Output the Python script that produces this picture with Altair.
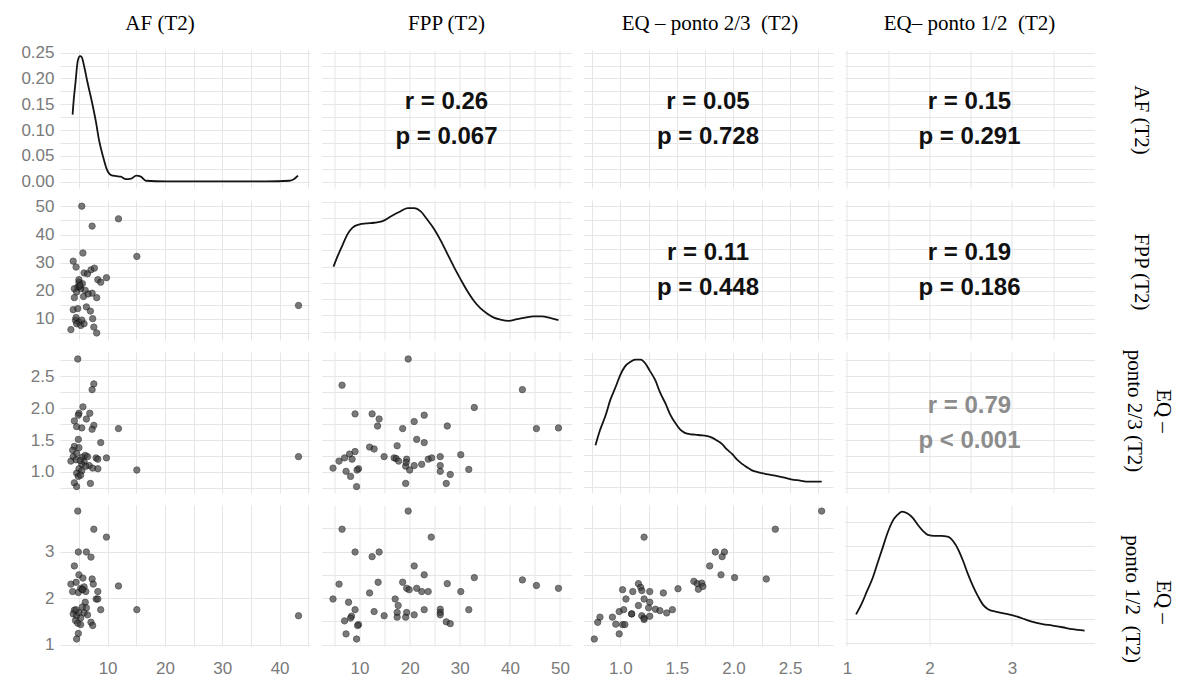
import altair as alt
import pandas as pd

# ---------------- text ----------------
HEADERS = ["AF (T2)", "FPP (T2)", "EQ – ponto 2/3 \u00a0(T2)", "EQ– ponto 1/2 \u00a0(T2)"]
ROW_LABELS = [["AF (T2)"], ["FPP (T2)"], ["EQ –", "ponto 2/3 (T2)"], ["EQ –", "ponto 1/2 \u00a0(T2)"]]

CORR_R = ["0.26", "0.05", "0.15", "0.11", "0.19", "0.79"]
CORR_P = ["= 0.067", "= 0.728", "= 0.291", "= 0.448", "= 0.186", "< 0.001"]

# ---------------- scatter data ----------------
AF_FPP_X = [5.5, 11.9, 7.3, 15.1, 43.3, 5.7, 4.0, 4.5, 5.9, 6.5, 7.1, 7.7, 8.3, 8.8, 9.8, 5.0, 5.6, 4.8, 4.2, 6.1,
            5.3, 7.3, 8.1, 5.8, 4.2, 4.0, 4.8, 6.3, 7.0, 7.4, 4.4, 5.0, 4.6, 5.3, 5.9, 7.6, 3.6, 8.1, 5.0, 4.5,
            5.1, 4.6, 5.5, 6.6, 5.2]
AF_FPP_Y = [50.1, 45.6, 43.0, 32.2, 14.7, 33.4, 30.5, 28.4, 26.3, 26.0, 27.4, 28.0, 23.9, 23.0, 24.6, 23.0, 22.5, 21.3, 20.7, 20.1,
            20.7, 19.1, 17.5, 17.9, 17.5, 13.2, 13.6, 14.2, 12.7, 10.0, 9.4, 8.8, 8.2, 7.6, 8.2, 7.0, 6.1, 4.9, 23.9, 10.4,
            21.5, 19.5, 9.5, 18.8, 22.0]

AF_EQ23_X = [4.8, 7.6, 7.3, 5.7, 5.0, 4.9, 6.9, 6.3, 4.2, 4.6, 5.5, 7.6, 7.3, 11.9, 4.9, 8.8, 4.2, 5.0, 3.9, 4.6,
             4.0, 3.6, 4.5, 5.6, 6.1, 6.5, 5.9, 5.5, 8.0, 8.3, 9.8, 6.8, 7.4, 8.3, 15.1, 5.0, 5.5, 4.6, 4.9, 5.3,
             4.2, 4.6, 7.0, 43.3, 5.2, 6.2]
AF_EQ23_Y = [2.77, 2.38, 2.29, 2.02, 1.92, 1.89, 1.92, 1.83, 1.80, 1.71, 1.69, 1.73, 1.67, 1.68, 1.51, 1.46, 1.40, 1.38, 1.34, 1.29,
             1.24, 1.17, 1.19, 1.23, 1.26, 1.24, 1.16, 1.12, 1.22, 1.20, 1.22, 1.10, 1.06, 1.05, 1.03, 1.05, 1.02, 0.98, 0.93, 0.95,
             0.83, 0.77, 0.82, 1.24, 1.18, 1.09]

AF_EQ12_X = [4.8, 7.6, 9.8, 4.9, 6.3, 7.1, 4.2, 5.0, 5.7, 7.3, 7.5, 3.6, 4.5, 11.9, 5.3, 5.6, 5.9, 3.9, 4.9, 6.2,
             8.3, 8.0, 8.3, 6.1, 5.6, 6.3, 8.8, 15.1, 4.2, 4.0, 4.6, 5.0, 5.9, 6.5, 5.3, 4.4, 4.8, 5.3, 7.1, 7.4,
             4.9, 4.6, 43.3, 4.5, 5.6]
AF_EQ12_Y = [3.87, 3.48, 3.31, 2.99, 2.99, 2.88, 2.69, 2.50, 2.43, 2.41, 2.30, 2.30, 2.34, 2.26, 2.21, 2.19, 2.24, 2.14, 2.12, 2.14,
             2.14, 1.98, 1.98, 1.91, 1.81, 1.79, 1.75, 1.75, 1.74, 1.66, 1.62, 1.69, 1.68, 1.64, 1.57, 1.52, 1.46, 1.43, 1.48, 1.41,
             1.24, 1.12, 1.62, 1.75, 2.18]

FPP_EQ23_X = [19.7, 6.5, 42.5, 32.9, 9.1, 12.5, 13.9, 22.9, 20.9, 13.6, 18.6, 27.5, 45.3, 49.7, 21.4, 22.9, 12.0, 12.9, 17.5, 9.1,
              8.0, 7.0, 5.9, 8.5, 14.9, 16.9, 17.3, 17.8, 19.4, 23.7, 24.4, 26.1, 30.2, 4.7, 7.3, 8.2, 9.8, 9.5, 9.4, 19.2,
              20.0, 20.9, 22.4, 26.1, 26.1, 28.1, 31.8, 19.2, 27.3, 19.3]
FPP_EQ23_Y = [2.77, 2.36, 2.29, 2.01, 1.91, 1.91, 1.83, 1.89, 1.79, 1.72, 1.68, 1.72, 1.68, 1.69, 1.51, 1.46, 1.39, 1.36, 1.41, 1.32,
              1.28, 1.22, 1.17, 1.20, 1.24, 1.22, 1.21, 1.17, 1.20, 1.20, 1.22, 1.24, 1.27, 1.06, 1.01, 0.93, 1.05, 1.03, 0.77, 1.09,
              1.03, 1.10, 1.12, 1.10, 1.01, 0.96, 1.04, 0.82, 0.82, 1.15]

FPP_EQ12_X = [19.7, 6.5, 24.3, 9.1, 13.9, 12.5, 20.9, 22.9, 32.9, 42.5, 5.9, 13.7, 18.6, 27.5, 45.3, 49.7, 19.4, 19.9, 21.4, 22.4,
              23.7, 30.2, 12.0, 4.7, 17.1, 7.8, 17.7, 9.1, 12.9, 22.9, 31.8, 26.1, 26.1, 26.1, 17.5, 19.4, 20.9, 14.9, 8.4, 8.2,
              17.5, 19.2, 7.0, 9.8, 9.6, 27.3, 28.1, 7.3, 9.4]
FPP_EQ12_Y = [3.87, 3.48, 3.31, 2.99, 2.99, 2.89, 2.69, 2.50, 2.44, 2.39, 2.30, 2.34, 2.34, 2.31, 2.27, 2.21, 2.21, 2.18, 2.21, 2.14,
              2.14, 2.14, 2.11, 1.98, 1.98, 1.91, 1.84, 1.75, 1.71, 1.75, 1.75, 1.76, 1.69, 1.64, 1.69, 1.69, 1.64, 1.62, 1.61, 1.57,
              1.59, 1.59, 1.51, 1.43, 1.41, 1.49, 1.45, 1.23, 1.12]

EQ23_EQ12_X = [2.78, 2.37, 1.21, 1.84, 1.92, 1.90, 1.79, 1.89, 2.01, 2.29, 1.65, 1.68, 1.72, 1.73, 1.69, 1.51, 1.16, 1.18, 1.19, 1.02,
               1.11, 1.26, 1.38, 1.05, 1.21, 1.26, 1.16, 1.25, 1.31, 1.35, 1.41, 1.46, 0.99, 1.03, 1.10, 1.19, 1.21, 1.26, 0.93, 0.82,
               0.80, 0.96, 1.02, 1.04, 0.99, 0.77, 1.10, 1.21]
EQ23_EQ12_Y = [3.87, 3.48, 3.31, 2.99, 2.99, 2.89, 2.69, 2.50, 2.44, 2.41, 2.36, 2.31, 2.32, 2.25, 2.19, 2.20, 2.31, 2.23, 2.16, 2.18,
               2.14, 2.14, 2.11, 1.98, 1.98, 1.91, 1.84, 1.79, 1.76, 1.73, 1.68, 1.75, 1.71, 1.75, 1.66, 1.62, 1.57, 1.61, 1.59, 1.59,
               1.48, 1.44, 1.43, 1.43, 1.23, 1.12, 1.66, 1.54]

# ---------------- density curves (diagonal) ----------------
DENS_AF_X = [3.9, 4.0, 4.4, 4.8, 5.2, 5.5, 5.9, 6.5, 7.3, 8.0, 8.5, 9.2, 9.8, 10.6, 11.5, 12.3, 13.2, 14.1, 15.0, 15.8,
             16.7, 20.2, 26.0, 31.8, 37.7, 41.7, 42.6, 43.2]
DENS_AF_Y = [0.130, 0.146, 0.192, 0.234, 0.243, 0.241, 0.224, 0.192, 0.153, 0.114, 0.081, 0.049, 0.026, 0.013, 0.011, 0.010,
             0.005, 0.006, 0.012, 0.010, 0.002, 0.001, 0.001, 0.001, 0.001, 0.002, 0.006, 0.012]

DENS_FPP_X = [4.8, 5.7, 6.7, 7.6, 8.6, 10.0, 11.3, 12.9, 14.6, 16.3, 17.9, 19.6, 20.9, 22.2, 23.5, 24.9, 26.2, 27.5, 28.8,
              30.2, 31.5, 32.8, 34.1, 35.5, 36.8, 38.1, 39.8, 41.4, 43.1, 44.7, 46.4, 48.0, 49.7]
DENS_FPP_Y = [0.020, 0.0235, 0.027, 0.030, 0.032, 0.033, 0.0333, 0.0335, 0.034, 0.0355, 0.0368, 0.038, 0.038, 0.037, 0.0345,
              0.0315, 0.028, 0.024, 0.020, 0.016, 0.0125, 0.0095, 0.0072, 0.0055, 0.0043, 0.0037, 0.0033, 0.0038, 0.0043,
              0.0047, 0.0047, 0.0042, 0.0035]

DENS_EQ23_X = [0.78, 0.82, 0.87, 0.91, 0.96, 1.00, 1.04, 1.09, 1.13, 1.18, 1.22, 1.26, 1.31, 1.35, 1.40, 1.44, 1.49, 1.53,
               1.57, 1.62, 1.66, 1.71, 1.76, 1.81, 1.85, 1.90, 1.94, 1.99, 2.03, 2.07, 2.12, 2.16, 2.22, 2.29, 2.37, 2.44,
               2.51, 2.59, 2.66, 2.74, 2.78]
DENS_EQ23_Y = [0.26, 0.354, 0.448, 0.542, 0.629, 0.702, 0.754, 0.785, 0.798, 0.798, 0.775, 0.729, 0.667, 0.594, 0.521,
               0.454, 0.396, 0.358, 0.338, 0.329, 0.327, 0.323, 0.319, 0.308, 0.292, 0.267, 0.235, 0.204, 0.171, 0.146,
               0.121, 0.104, 0.090, 0.079, 0.069, 0.058, 0.046, 0.038, 0.031, 0.031, 0.031]

DENS_EQ12_X = [1.11, 1.18, 1.24, 1.31, 1.37, 1.43, 1.49, 1.55, 1.61, 1.67, 1.73, 1.80, 1.86, 1.92, 1.98, 2.06, 2.14, 2.22,
               2.29, 2.35, 2.41, 2.47, 2.53, 2.59, 2.65, 2.71, 2.80, 2.90, 3.00, 3.12, 3.24, 3.37, 3.49, 3.61, 3.73, 3.88]
DENS_EQ12_Y = [0.119, 0.164, 0.212, 0.267, 0.329, 0.390, 0.452, 0.500, 0.527, 0.541, 0.534, 0.514, 0.486, 0.462, 0.445,
               0.441, 0.441, 0.438, 0.418, 0.384, 0.336, 0.281, 0.233, 0.192, 0.158, 0.140, 0.130, 0.123, 0.116, 0.103,
               0.089, 0.079, 0.073, 0.066, 0.058, 0.052]

# ---------------- scales / ticks ----------------
SPEC = {
    "AF": dict(domain=[1.7, 45.3], grid=[5, 10, 15, 20, 25, 30, 35, 40, 45], major=[10, 20, 30, 40], fmt="d"),
    "FPP": dict(domain=[2.4, 52.3], grid=[5, 10, 15, 20, 25, 30, 35, 40, 45, 50], major=[10, 20, 30, 40, 50], fmt="d"),
    "EQ23": dict(domain=[0.67, 2.88], grid=[0.75, 1.0, 1.25, 1.5, 1.75, 2.0, 2.25, 2.5, 2.75],
                 major=[1.0, 1.5, 2.0, 2.5], fmt=".1f"),
    "EQ12": dict(domain=[0.97, 4.0], grid=[1.0, 1.5, 2.0, 2.5, 3.0, 3.5], major=[1, 2, 3], fmt="d"),
    "D_AF": dict(domain=[-0.012, 0.255],
                 grid=[0, 0.025, 0.05, 0.075, 0.1, 0.125, 0.15, 0.175, 0.2, 0.225, 0.25],
                 major=[0, 0.05, 0.1, 0.15, 0.2, 0.25], fmt=".2f"),
    "D_FPP": dict(domain=[-0.0026, 0.0405], grid=[0, 0.005, 0.01, 0.015, 0.02, 0.025, 0.03, 0.035, 0.04],
                  major=[], fmt=".3f"),
    "D_EQ23": dict(domain=[-0.04, 0.846], grid=[0, 0.1, 0.2, 0.3, 0.4, 0.5, 0.6, 0.7, 0.8], major=[], fmt=".1f"),
    "D_EQ12": dict(domain=[-0.011, 0.568], grid=[0, 0.1, 0.2, 0.3, 0.4, 0.5], major=[], fmt=".1f"),
}

W = 250
HEIGHTS = [138, 140, 141, 141]
ROW_LABEL_POS = [[(296, 70)], [(296, 72)], [(318, 59), (289, 59)], [(318, 97), (287, 94)]]
HEADER_POS = [(100, -20), (125, -20), (127, -20), (125, -20)]

LABEL_FONT = "Liberation Sans"
SERIF = "Liberation Serif"
TICK_COLOR = "#7a7a7a"


def make_axis(key, show, orient):
    s = SPEC[key]
    if show:
        extra = dict(minExtent=47, maxExtent=47, labelPadding=6) if orient == "left" else dict(labelPadding=14)
        return alt.Axis(values=s["grid"], grid=True, title=None, domain=False, ticks=False,
                        format=s["fmt"], labelExpr=f"indexof({s['major']}, datum.value) >= 0 ? datum.label : ''",
                        labelOverlap=False, labelFlush=False, **extra)
    return alt.Axis(values=s["grid"], grid=True, title=None, domain=False, ticks=False, labels=False)


def xy(xkey, ykey, show_x, show_y):
    x = alt.X("x:Q", scale=alt.Scale(domain=SPEC[xkey]["domain"], nice=False, zero=False),
              axis=make_axis(xkey, show_x, "bottom"))
    y = alt.Y("y:Q", scale=alt.Scale(domain=SPEC[ykey]["domain"], nice=False, zero=False),
              axis=make_axis(ykey, show_y, "left"))
    return x, y


def scatter(xs, ys, xkey, ykey, row, col):
    x, y = xy(xkey, ykey, row == 3, col == 0)
    df = pd.DataFrame({"x": xs, "y": ys})
    return alt.Chart(df).mark_point(shape="circle", filled=True, fill="#3a3a3a", stroke="#101010",
                                    strokeWidth=0.9, opacity=0.68, size=40).encode(x=x, y=y)


def density(xs, ys, xkey, ykey, row, col):
    x, y = xy(xkey, ykey, row == 3, col == 0)
    df = pd.DataFrame({"x": xs, "y": ys})
    return alt.Chart(df).mark_line(color="#141414", strokeWidth=1.8, interpolate="monotone").encode(x=x, y=y)


def text_panel(r, p, xkey, ykey, row, col, color):
    x, y = xy(xkey, ykey, False, False)
    h = HEIGHTS[row]
    frame = pd.DataFrame({"x": SPEC[xkey]["domain"], "y": SPEC[ykey]["domain"]})
    grid_layer = alt.Chart(frame).mark_point(opacity=0, size=1).encode(x=x, y=y)
    tdf = pd.DataFrame({"r": [f"r = {r}"], "p": [f"p {p}"]})
    common = dict(font=LABEL_FONT, fontWeight="bold", fontSize=24, color=color, align="center", baseline="middle")
    r_layer = alt.Chart(tdf).mark_text(**common).encode(x=alt.value(W / 2), y=alt.value(h / 2 - 17), text="r:N")
    p_layer = alt.Chart(tdf).mark_text(**common).encode(x=alt.value(W / 2), y=alt.value(h / 2 + 18), text="p:N")
    return [grid_layer, r_layer, p_layer]


def row_label_layers(row):
    layers = []
    for line, (px, py) in zip(ROW_LABELS[row], ROW_LABEL_POS[row]):
        ldf = pd.DataFrame({"t": [line]})
        layers.append(alt.Chart(ldf).mark_text(font=SERIF, fontSize=21, color="black", angle=90,
                                                align="center", baseline="middle")
                      .encode(x=alt.value(px), y=alt.value(py), text="t:N"))
    return layers


def header_layer(col):
    hdf = pd.DataFrame({"t": [HEADERS[col]]})
    px, py = HEADER_POS[col]
    return alt.Chart(hdf).mark_text(font=SERIF, fontSize=21, color="black", align="center",
                                    baseline="alphabetic").encode(x=alt.value(px), y=alt.value(py), text="t:N")


VARS = ["AF", "FPP", "EQ23", "EQ12"]
SCAT = {
    (1, 0): (AF_FPP_X, AF_FPP_Y),
    (2, 0): (AF_EQ23_X, AF_EQ23_Y),
    (3, 0): (AF_EQ12_X, AF_EQ12_Y),
    (2, 1): (FPP_EQ23_X, FPP_EQ23_Y),
    (3, 1): (FPP_EQ12_X, FPP_EQ12_Y),
    (3, 2): (EQ23_EQ12_X, EQ23_EQ12_Y),
}
DENS = [(DENS_AF_X, DENS_AF_Y, "D_AF"), (DENS_FPP_X, DENS_FPP_Y, "D_FPP"),
        (DENS_EQ23_X, DENS_EQ23_Y, "D_EQ23"), (DENS_EQ12_X, DENS_EQ12_Y, "D_EQ12")]
UPPER = [(0, 1), (0, 2), (0, 3), (1, 2), (1, 3), (2, 3)]
UPPER_Y = {0: "D_AF", 1: "FPP", 2: "EQ23"}

panels = []
for row in range(4):
    for col in range(4):
        xkey = VARS[col]
        if row == col:
            dx, dy, dkey = DENS[row]
            layers = [density(dx, dy, xkey, dkey, row, col)]
        elif row > col:
            sx, sy = SCAT[(row, col)]
            layers = [scatter(sx, sy, xkey, VARS[row], row, col)]
        else:
            k = UPPER.index((row, col))
            color = "#8c8c8c" if CORR_P[k].startswith("<") else "#111111"
            layers = text_panel(CORR_R[k], CORR_P[k], xkey, UPPER_Y[row], row, col, color)
        if col == 3:
            layers = layers + row_label_layers(row)
        if row == 0:
            layers = layers + [header_layer(col)]
        panels.append(alt.layer(*layers).properties(width=W, height=HEIGHTS[row]))

chart = alt.concat(*panels, columns=4, spacing={"row": 12, "column": 11.5}, bounds="flush", align="each").properties(
    padding={"left": 5, "top": 5, "right": 5, "bottom": 0}, background="white"
).configure_view(stroke=None).configure_axis(
    gridColor="#e6e6e6", gridWidth=1, labelFont=LABEL_FONT, labelColor=TICK_COLOR, labelFontSize=17
)

chart.save("out.html", embed_options={"renderer": "svg", "actions": False})
